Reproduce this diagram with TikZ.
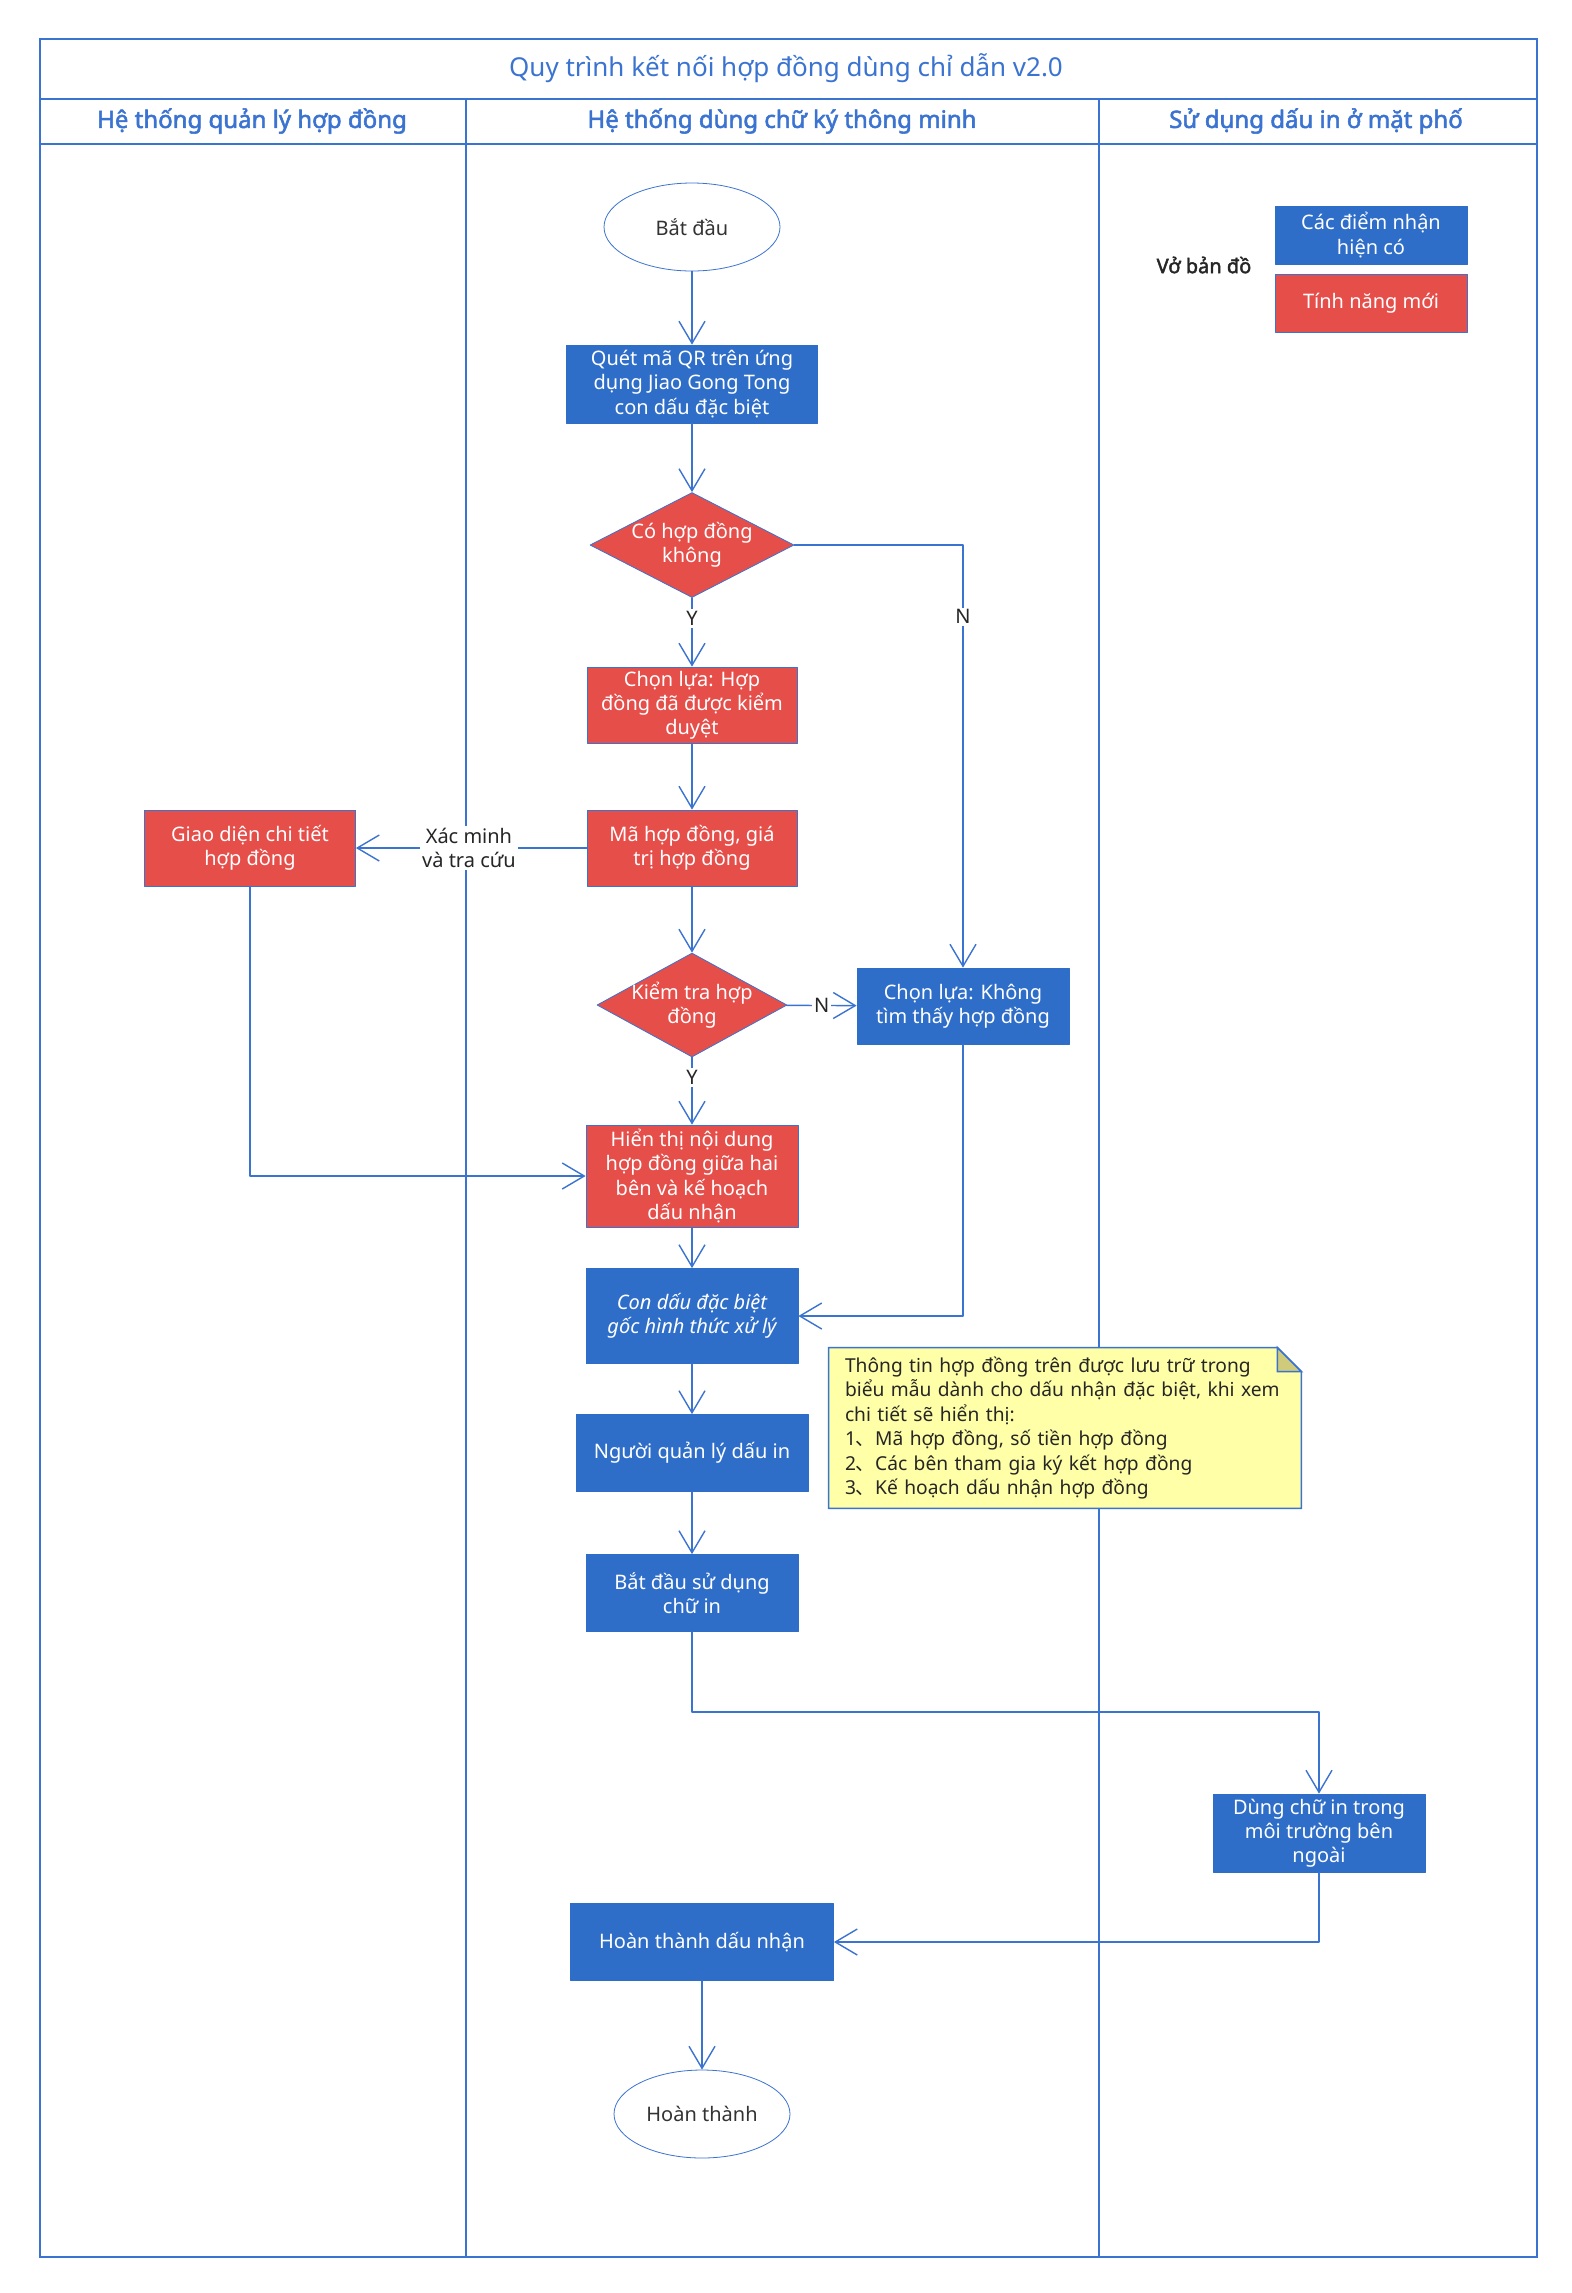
\documentclass[tikz,border=0pt]{standalone}
\usepackage{fontspec}
\setmainfont{Noto Sans}[AutoFakeBold=2.2]
\newfontfamily\cjk{Noto Sans CJK SC}
\usetikzlibrary{shapes.geometric,arrows.meta,backgrounds,calc}
\definecolor{laneblue}{RGB}{59,115,209}
\definecolor{boxblue}{RGB}{46,110,200}
\definecolor{boxred}{RGB}{230,78,74}
\definecolor{noteyellow}{RGB}{255,255,168}
\definecolor{notefold}{RGB}{207,203,122}

\begin{document}
\begin{tikzpicture}[x=0.5pt, y=-0.5pt, line cap=round, line join=round,
    font=\fontsize{10}{12.1}\selectfont,
    lane/.style={draw=laneblue, line width=0.8pt},
    headtext/.style={text=laneblue, font=\fontsize{12}{14}\selectfont\bfseries},
    bluebox/.style={rectangle, fill=boxblue, draw=boxblue, text=white, align=center,
      inner sep=0pt, minimum width=106pt, minimum height=38pt},
    redbox/.style={bluebox, fill=boxred, draw=laneblue},
    decision/.style={diamond, aspect=2, fill=boxred, draw=laneblue, text=white,
      align=center, inner sep=-4pt, minimum width=102pt, minimum height=52.5pt},
    terminal/.style={ellipse, draw=laneblue, fill=white, text=black!80,
      inner sep=0pt, minimum width=88pt, minimum height=44pt},
    flow/.style={draw=laneblue, line width=0.7pt,
      -{Straight Barb[length=11pt, width=13pt, line width=0.7pt]}},
    tag/.style={fill=white, text=black!85, inner sep=1pt, align=center}]

    \useasboundingbox (0,0) rectangle (1572,2293);

    % --- 1. Swimlane frame ---
    \begin{scope}[on background layer]
        \draw[lane] (40,39) rectangle (1537,2257);
        \draw[lane] (40,99) -- (1537,99);
        \draw[lane] (40,144) -- (1537,144);
        \draw[lane] (466,99) -- (466,2257);
        \draw[lane] (1099,99) -- (1099,2257);
    \end{scope}

    \node[text=laneblue, font=\fontsize{13}{15}\selectfont] (title) at (786,68)
        {Quy trình kết nối hợp đồng dùng chỉ dẫn v2.0};
    \node[headtext] (laneA) at (252,121) {Hệ thống quản lý hợp đồng};
    \node[headtext] (laneB) at (782,121) {Hệ thống dùng chữ ký thông minh};
    \node[headtext] (laneC) at (1316,121) {Sử dụng dấu in ở mặt phố};

    % --- 2. Legend ---
    \node[font=\fontsize{10}{12}\selectfont\bfseries, text=black!85] (legend) at (1204,265) {Vở bản đồ};
    \node[bluebox, minimum width=96pt, minimum height=29pt] (oldkey) at (1371,235)
        {Các điểm nhận\\hiện có};
    \node[redbox, minimum width=96pt, minimum height=29pt] (newkey) at (1371,303)
        {Tính năng mới};

    % --- 3. Main flow ---
    \node[terminal] (start) at (692,227) {Bắt đầu};
    \node[bluebox, minimum width=125.5pt, minimum height=39pt] (scan) at (692,384)
        {Quét mã QR trên ứng\\dụng Jiao Gong Tong\\con dấu đặc biệt};
    \node[decision] (hascon) at (692,545) {Có hợp đồng\\không};
    \node[redbox, minimum width=105pt] (picked) at (692,705)
        {Chọn lựa: Hợp\\đồng đã được kiểm\\duyệt};
    \node[redbox, minimum width=105pt] (code) at (692,848)
        {Mã hợp đồng, giá\\trị hợp đồng};
    \node[redbox, minimum width=105.5pt] (detail) at (250,848)
        {Giao diện chi tiết\\hợp đồng};
    \node[decision, minimum width=95pt, minimum height=52pt] (check) at (692,1005)
        {Kiểm tra hợp\\đồng};
    \node[bluebox] (notfound) at (963,1006)
        {Chọn lựa: Không\\tìm thấy hợp đồng};
    \node[redbox, minimum height=51pt] (show) at (692,1176)
        {Hiển thị nội dung\\hợp đồng giữa hai\\bên và kế hoạch\\dấu nhận};
    \node[bluebox, minimum height=47.5pt, font=\fontsize{10}{12.1}\selectfont\itshape] (origin) at (692,1316)
        {Con dấu đặc biệt\\gốc hình thức xử lý};
    \node[bluebox, minimum width=116pt, minimum height=38.5pt] (keeper) at (692,1453)
        {Người quản lý dấu in};
    \node[bluebox, minimum height=38.5pt] (useprint) at (692,1593)
        {Bắt đầu sử dụng\\chữ in};
    \node[bluebox, minimum height=39pt] (outside) at (1319,1833)
        {Dùng chữ in trong\\môi trường bên\\ngoài};
    \node[bluebox, minimum width=131.5pt, minimum height=38.5pt] (done) at (702,1942)
        {Hoàn thành dấu nhận};
    \node[terminal] (finish) at (702,2114) {Hoàn thành};

    % --- 4. Note ---
    \node[text width=220pt, align=left, text=black!85, minimum width=236pt,
        minimum height=80pt, inner sep=0pt, font=\fontsize{9.6}{12.2}\selectfont] (memo) at (1065,1428)
        {Thông tin hợp đồng trên được lưu trữ trong\\
         biểu mẫu dành cho dấu nhận đặc biệt, khi xem\\
         chi tiết sẽ hiển thị:\\
         1{\cjk 、}Mã hợp đồng, số tiền hợp đồng\\
         2{\cjk 、}Các bên tham gia ký kết hợp đồng\\
         3{\cjk 、}Kế hoạch dấu nhận hợp đồng};
    \begin{scope}[on background layer]
        \draw[lane, fill=noteyellow] (memo.north west) -- ($(memo.north east)+(-24,0)$)
            -- ($(memo.north east)+(0,24)$) -- (memo.south east) -- (memo.south west) -- cycle;
        \draw[lane, fill=notefold] ($(memo.north east)+(-24,0)$) -- ($(memo.north east)+(0,24)$)
            -- ($(memo.north east)+(-24,24)$) -- cycle;
    \end{scope}

    % --- 5. Connectors ---
    \coordinate (turn) at (692,1712);
    \draw[flow] (start) -- (scan);
    \draw[flow] (scan) -- (hascon);
    \draw[flow] (hascon) -- node[tag, pos=0.3] {Y} (picked);
    \draw[flow] (hascon.east) -| node[tag, pos=0.585] {N} (notfound.north);
    \draw[flow] (picked) -- (code);
    \draw[flow] (code) -- node[tag, pos=0.51] {Xác minh\\và tra cứu} (detail);
    \draw[flow] (code) -- (check);
    \draw[flow] (check) -- node[tag] {N} (notfound);
    \draw[flow] (check) -- node[tag, pos=0.3] {Y} (show);
    \draw[flow] (detail.south) |- (show.west);
    \draw[flow] (notfound.south) |- (origin.east);
    \draw[flow] (show) -- (origin);
    \draw[flow] (origin) -- (keeper);
    \draw[flow] (keeper) -- (useprint);
    \draw[flow] (useprint.south) -- (turn) -| (outside.north);
    \draw[flow] (outside.south) |- (done.east);
    \draw[flow] (done) -- (finish);
  \end{tikzpicture}
\end{document}
